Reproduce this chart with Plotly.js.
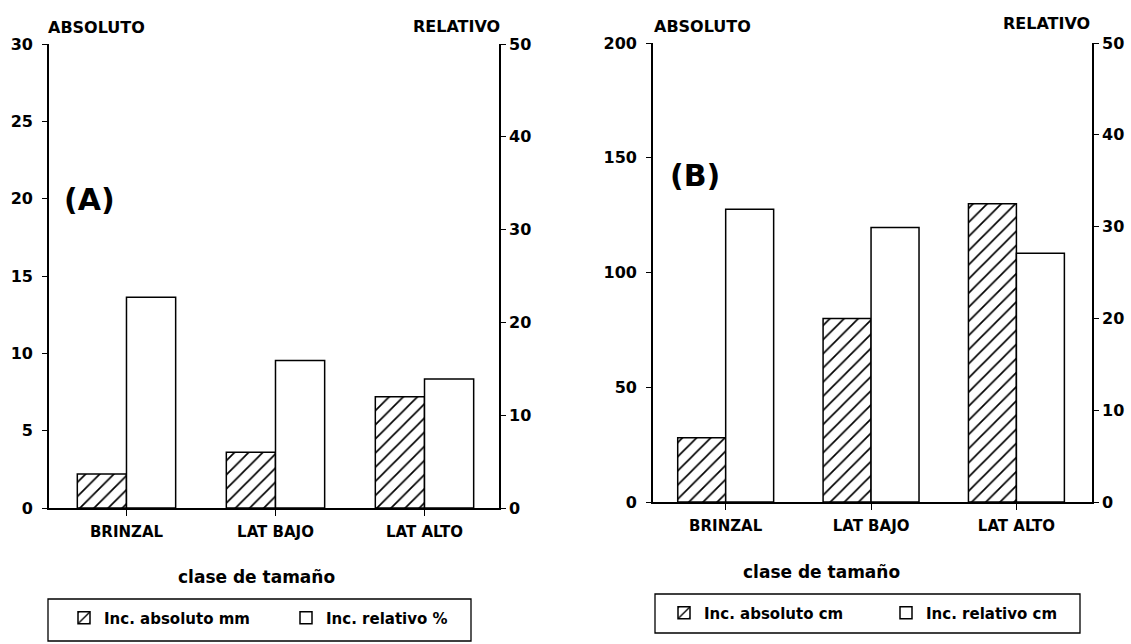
<!DOCTYPE html>
<html><head><meta charset="utf-8">
<script src="https://cdn.plot.ly/plotly-3.0.1.min.js"></script>
<style>html,body{margin:0;padding:0;background:#fff}#chart{width:1131px;height:644px}</style>
</head><body><div id="chart"></div>
<script>
const categories = ['BRINZAL', 'LAT BAJO', 'LAT ALTO'];
const absA = [2.2, 3.6, 7.2];      // inc. absoluto mm
const relA = [22.7, 15.9, 13.9];   // inc. relativo %
const absB = [28, 80, 130];        // inc. absoluto cm
const relB = [31.9, 29.9, 27.1];   // inc. relativo cm
const ticksAbsA = [0, 5, 10, 15, 20, 25, 30];
const ticksAbsB = [0, 50, 100, 150, 200];
const ticksRel = [0, 10, 20, 30, 40, 50];
const namesA = ['Inc. absoluto mm', 'Inc. relativo %'];
const namesB = ['Inc. absoluto cm', 'Inc. relativo cm'];
const xTitle = 'clase de tamaño';

const FONT = 'DejaVu Sans, Liberation Sans, Arial, sans-serif';
const W = 1131, H = 644;
const px = v => v / W, py = v => 1 - v / H;

const hatch = {shape: '/', fgcolor: 'black', bgcolor: 'white', size: 10, solidity: 0.17};
const outline = {color: 'black', width: 1.5};

function barTrace(x, y, name, xa, ya, hatched, legend) {
  return {
    type: 'bar', x: x, y: y, name: name, xaxis: xa, yaxis: ya,
    width: 0.33, offset: hatched ? -0.33 : 0,
    marker: hatched ? {color: 'white', line: outline, pattern: hatch}
                    : {color: 'white', line: outline},
    legend: legend, hoverinfo: 'x+y'
  };
}

const data = [
  barTrace(categories, absA, namesA[0], 'x', 'y', true, 'legend'),
  barTrace(categories, relA, namesA[1], 'x', 'y2', false, 'legend'),
  barTrace(categories, absB, namesB[0], 'x2', 'y3', true, 'legend2'),
  barTrace(categories, relB, namesB[1], 'x2', 'y4', false, 'legend2')
];

const tickFont = {family: FONT, size: 16, color: 'black', weight: 'bold'};
const axBase = {
  showline: true, linecolor: 'black', linewidth: 1.6, mirror: false,
  ticks: 'outside', tickcolor: 'black', tickwidth: 1.4, ticklen: 5,
  showgrid: false, zeroline: false, tickfont: tickFont, fixedrange: true
};

function xAxis(domain, range, anchor) {
  return Object.assign({}, axBase, {
    domain: domain, range: range, anchor: anchor, type: 'category',
    ticklen: 6, ticklabelstandoff: 3,
    tickfont: {family: FONT, size: 15, color: 'black', weight: 'bold'}
  });
}
function yAxis(domain, range, ticks, anchor, side, overlay) {
  const a = Object.assign({}, axBase, {
    range: range, tickmode: 'array', tickvals: ticks, anchor: anchor, side: side,
    ticklabelstandoff: side === 'left' ? 6 : 0
  });
  if (overlay) a.overlaying = overlay; else a.domain = domain;
  return a;
}

const domAx = [px(49), px(499)], domAy = [py(508), py(44)];
const domBx = [px(653), px(1092)], domBy = [py(502), py(43)];

const labFont = {family: FONT, size: 16, color: 'black', weight: 'bold'};
const bigFont = {family: FONT, size: 30, color: 'black', weight: 'bold'};
const titleFont = {family: FONT, size: 17, color: 'black', weight: 'bold'};
function ann(text, x, y, xanchor, font) {
  return {text: text, x: px(x), y: py(y), xref: 'paper', yref: 'paper',
          xanchor: xanchor, yanchor: 'middle', showarrow: false, font: font};
}

const legFont = {family: FONT, size: 15, color: 'black', weight: 'bold'};
function legend(x, y) {
  return {x: px(x), y: py(y), xanchor: 'left', yanchor: 'middle', orientation: 'h',
          bgcolor: 'rgba(0,0,0,0)', borderwidth: 0, font: legFont,
          entrywidth: 177, entrywidthmode: 'pixels', itemwidth: 30, itemclick: false, itemdoubleclick: false};
}
function box(x0, y0, x1, y1) {
  return {type: 'rect', xref: 'paper', yref: 'paper', x0: px(x0), x1: px(x1), y0: py(y1), y1: py(y0),
          line: {color: 'black', width: 1.3}, fillcolor: 'rgba(0,0,0,0)', layer: 'below'};
}

const layout = {
  width: W, height: H, margin: {l: 0, r: 0, t: 0, b: 0},
  paper_bgcolor: 'white', plot_bgcolor: 'rgba(0,0,0,0)',
  barmode: 'overlay', showlegend: true,
  font: {family: FONT, color: 'black'},
  xaxis: xAxis(domAx, [-0.52, 2.5], 'y'),
  yaxis: yAxis(domAy, [0, 30], ticksAbsA, 'x', 'left'),
  yaxis2: yAxis(null, [0, 50], ticksRel, 'x', 'right', 'y'),
  xaxis2: xAxis(domBx, [-0.5, 2.52], 'y3'),
  yaxis3: yAxis(domBy, [0, 200], ticksAbsB, 'x2', 'left'),
  yaxis4: yAxis(null, [0, 50], ticksRel, 'x2', 'right', 'y3'),
  legend: legend(64, 618),
  legend2: legend(664, 613),
  shapes: [box(48, 599, 471, 641), box(655, 594, 1080, 633)],
  annotations: [
    ann('ABSOLUTO', 46, 28, 'left', labFont),
    ann('RELATIVO', 502, 27, 'right', labFont),
    ann('(A)', 62, 200, 'left', bigFont),
    ann('ABSOLUTO', 652, 26, 'left', labFont),
    ann('RELATIVO', 1092, 24, 'right', labFont),
    ann('(B)', 668, 175, 'left', bigFont),
    ann(xTitle, 256, 577, 'center', titleFont),
    ann(xTitle, 821, 572, 'center', titleFont)
  ]
};

Plotly.newPlot('chart', data, layout, {displayModeBar: false});
</script>
</body></html>
